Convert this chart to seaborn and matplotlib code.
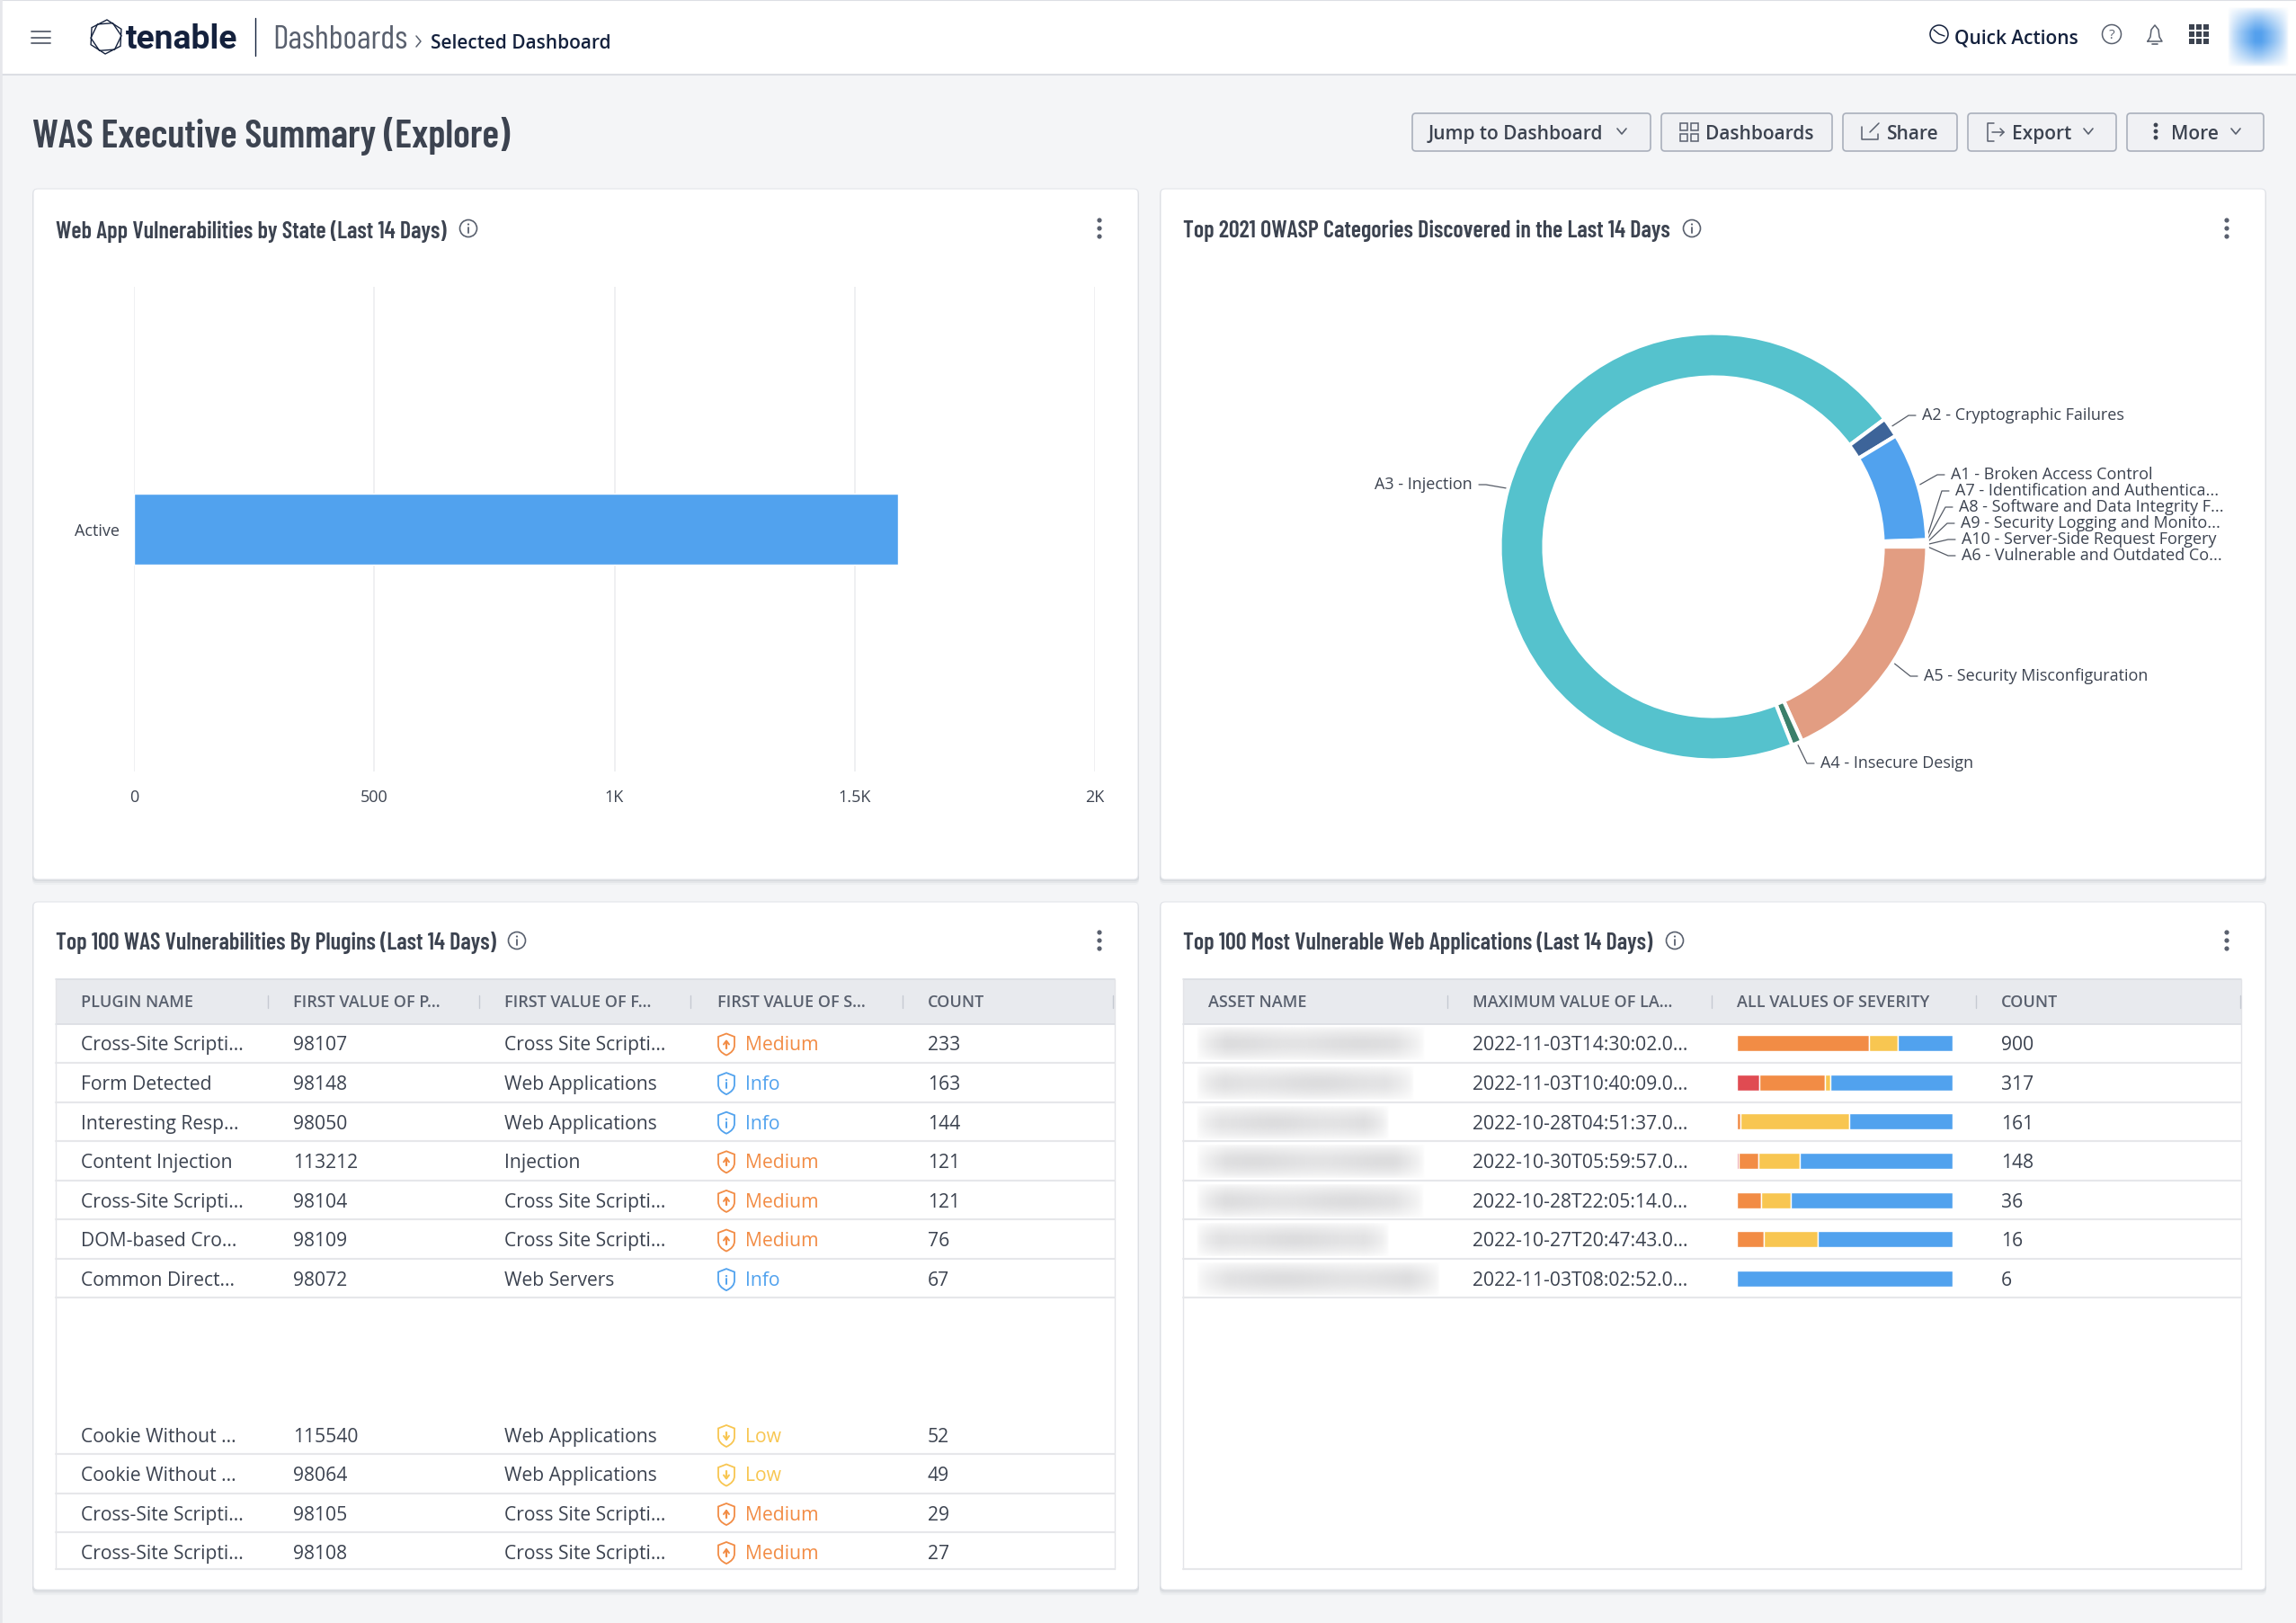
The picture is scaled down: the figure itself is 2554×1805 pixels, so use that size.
import numpy as np
import matplotlib
matplotlib.use("Agg")
import matplotlib.pyplot as plt
import seaborn as sns
from matplotlib import font_manager
from matplotlib.patches import Rectangle, FancyBboxPatch, Circle, RegularPolygon, PathPatch
from matplotlib.path import Path

# bar chart
state_names = ["Active"]
state_counts = [1590]
state_ticks = [0, 500, 1000, 1500, 2000]
state_tick_labels = ["0", "500", "1K", "1.5K", "2K"]

# donut, clockwise from 3 o'clock
owasp_names = ["A5 - Security Misconfiguration", "A4 - Insecure Design", "A3 - Injection",
               "A2 - Cryptographic Failures", "A1 - Broken Access Control",
               "A7 - Identification and Authentica...", "A8 - Software and Data Integrity F...",
               "A9 - Security Logging and Monito...", "A10 - Server-Side Request Forgery",
               "A6 - Vulnerable and Outdated Co..."]
owasp_counts = [182, 8, 708, 15, 82, 1, 1, 1, 1, 1]
owasp_colors = ["#e29d82", "#3b7f6a", "#55c2cd", "#3d6499", "#51a2ee",
                "#51a2ee", "#51a2ee", "#51a2ee", "#51a2ee", "#51a2ee"]

# plugin table
plugin_header = ["PLUGIN NAME", "FIRST VALUE OF P...", "FIRST VALUE OF F...", "FIRST VALUE OF S...", "COUNT"]
plugin_names = ["Cross-Site Scripti...", "Form Detected", "Interesting Resp...", "Content Injection",
                "Cross-Site Scripti...", "DOM-based Cro...", "Common Direct...",
                "Cookie Without ...", "Cookie Without ...", "Cross-Site Scripti...", "Cross-Site Scripti..."]
plugin_ids = ["98107", "98148", "98050", "113212", "98104", "98109", "98072", "115540", "98064", "98105", "98108"]
plugin_families = ["Cross Site Scripti...", "Web Applications", "Web Applications", "Injection",
                   "Cross Site Scripti...", "Cross Site Scripti...", "Web Servers",
                   "Web Applications", "Web Applications", "Cross Site Scripti...", "Cross Site Scripti..."]
plugin_severity = ["Medium", "Info", "Info", "Medium", "Medium", "Medium", "Info", "Low", "Low", "Medium", "Medium"]
plugin_counts = [233, 163, 144, 121, 121, 76, 67, 52, 49, 29, 27]

# web app table
app_header = ["ASSET NAME", "MAXIMUM VALUE OF LA...", "ALL VALUES OF SEVERITY", "COUNT"]
app_last_seen = ["2022-11-03T14:30:02.0...", "2022-11-03T10:40:09.0...", "2022-10-28T04:51:37.0...",
                 "2022-10-30T05:59:57.0...", "2022-10-28T22:05:14.0...", "2022-10-27T20:47:43.0...",
                 "2022-11-03T08:02:52.0..."]
app_counts = [900, 317, 161, 148, 36, 16, 6]
app_critical = [0, 33, 0, 1, 0, 0, 0]
app_high = [552, 97, 3, 14, 4, 2, 0]
app_low = [119, 8, 81, 28, 5, 4, 0]
app_info = [229, 179, 77, 105, 27, 10, 6]

W, H = 2554, 1806
NAVY = "#14213d"
INK = "#3c4350"
GREY = "#59606e"
SEV_COLORS = {"Medium": "#f28c45", "Info": "#51a2ee", "Low": "#f8c651"}

sns.set_theme(style="white")

# pick a condensed face for the headings if there is one
installed = {f.name for f in font_manager.fontManager.ttflist}
narrow = "Roboto"
for name in ["Barlow Condensed", "Roboto Condensed", "Open Sans Condensed", "Liberation Sans Narrow", "DejaVu Sans Condensed"]:
    if name in installed:
        narrow = name
        break
plt.rcParams["font.family"] = ["Open Sans", "DejaVu Sans"]

fig = plt.figure(figsize=(W / 100, H / 100), dpi=100, facecolor="#f4f5f7")
bg = fig.add_axes([0, 0, 1, 1], zorder=0)
bg.set_xlim(0, W)
bg.set_ylim(H, 0)
bg.axis("off")


def px_axes(x0, y0, x1, y1, z=2):
    # axes from a pixel box, y measured from the top
    ax = fig.add_axes([x0 / W, 1 - y1 / H, (x1 - x0) / W, (y1 - y0) / H], zorder=z)
    ax.patch.set_alpha(0)
    return ax


def label(x, y, s, size=15.2, color=INK, ha="left", **kw):
    # va=center sits a little high for these faces
    return bg.text(x, y + 2.5, s, fontsize=size, color=color, ha=ha, va="center", **kw)


def line(xs, ys, color=GREY, lw=1.2, **kw):
    bg.plot(xs, ys, color=color, lw=lw, solid_capstyle="round", **kw)


def card(x0, y0, x1, y1):
    for i, a in zip([6, 4, 2], [0.05, 0.08, 0.12]):
        bg.add_patch(FancyBboxPatch((x0 - 1, y0 + i - 2), x1 - x0 + 2, y1 - y0 + 2, boxstyle="round,pad=0,rounding_size=5",
                                    fc="#7c8494", ec="none", alpha=a))
    bg.add_patch(FancyBboxPatch((x0, y0), x1 - x0, y1 - y0, boxstyle="round,pad=0,rounding_size=5", fc="white", ec="#e3e5ea", lw=0.8))


def info_icon(x, y, color=GREY):
    bg.add_patch(Circle((x, y), 9.5, fc="none", ec=color, lw=1.2))
    line([x, x], [y - 1, y + 5], color=color, lw=1.3)
    bg.add_patch(Circle((x, y - 4.5), 1.1, fc=color, ec="none"))


def menu_dots(x, y, color=GREY, r=2.6, gap=9):
    for k in [-1, 0, 1]:
        bg.add_patch(Circle((x, y + k * gap), r, fc=color, ec="none"))


def chevron(x, y, color=GREY):
    line([x - 5, x, x + 5], [y - 3, y + 3, y - 3], color=color, lw=1.2)


def soft_patch(x0, y0, x1, y1, rgb, peak, edge_x=0.14, edge_y=0.34, power=1.0, ripple=0.0, phase=0.0):
    # blurred rectangle, used for the redacted names and the avatar
    ny, nx = 40, 120
    yy, xx = np.mgrid[0:1:ny * 1j, 0:1:nx * 1j]
    fade_x = np.clip(np.minimum(xx, 1 - xx) / edge_x, 0, 1)
    fade_y = np.clip(np.minimum(yy, 1 - yy) / edge_y, 0, 1)
    alpha = peak * (fade_x * fade_y) ** power * (1 + ripple * np.sin(xx * 11 + phase))
    img = np.zeros((ny, nx, 4))
    img[..., :3] = rgb
    img[..., 3] = np.clip(alpha, 0, 1)
    bg.imshow(img, extent=(x0, x1, y1, y0), aspect="auto", interpolation="bilinear", zorder=1)
    bg.set_xlim(0, W)
    bg.set_ylim(H, 0)


def shield(x, y, severity):
    c = SEV_COLORS[severity]
    verts = [(0, -12), (9, -8.5), (9, 1), (9, 8), (0, 12), (-9, 8), (-9, 1), (-9, -8.5), (0, -12)]
    codes = [Path.MOVETO, Path.LINETO, Path.LINETO, Path.CURVE3, Path.CURVE3, Path.CURVE3, Path.CURVE3, Path.LINETO, Path.CLOSEPOLY]
    bg.add_patch(PathPatch(Path([(x + a, y + b) for a, b in verts], codes), fc="none", ec=c, lw=1.3))
    if severity == "Medium":
        line([x, x], [y - 4, y + 4], color=c, lw=1.6)
        line([x - 3, x, x + 3], [y, y - 4, y], color=c, lw=1.4)
    elif severity == "Low":
        line([x, x], [y - 4, y + 4], color=c, lw=1.6)
        line([x - 3, x, x + 3], [y, y + 4, y], color=c, lw=1.4)
    else:
        line([x, x], [y - 1, y + 5], color=c, lw=1.4)
        bg.add_patch(Circle((x, y - 4), 1.1, fc=c, ec="none"))


# top bar
bg.add_patch(Rectangle((0, 0), W, 84, fc="white", ec="none"))
line([0, W], [1, 1], color="#dcdee4", lw=1.5)
line([0, W], [84, 84], color="#dcdee4", lw=1.5)
line([0, 0], [0, H], color="#e6e7eb", lw=4)
for yy in [36, 43, 49]:
    line([35, 56], [yy, yy], color=GREY, lw=1.3)
for rot, rad in [(0.05, 19), (0.45, 17)]:
    bg.add_patch(RegularPolygon((118, 42), 6, radius=rad, orientation=rot, fc="none", ec=NAVY, lw=1.0))
label(140, 42, "tenable", size=26.8, color=NAVY, fontweight="bold", family="Roboto")
line([284, 284], [21, 63], color=NAVY, lw=1)
label(303, 42.5, "Dashboards", size=27, color=GREY, family=narrow)
line([463, 468, 463], [41, 47, 53], color=GREY, lw=1.1)
label(479, 46, "Selected Dashboard", size=15, color=NAVY, fontweight="semibold")
bg.add_patch(Circle((2157, 39), 10, fc="none", ec=NAVY, lw=1.1))
line([2151, 2157, 2163], [34, 39, 41], color=NAVY, lw=1)
label(2174, 40.5, "Quick Actions", size=15, color=NAVY, fontweight="semibold")
bg.add_patch(Circle((2349, 39), 10.5, fc="none", ec=GREY, lw=1.1))
label(2349, 37, "?", size=11, color=GREY, ha="center")
line([2389, 2392, 2393, 2397, 2401, 2402, 2405, 2389], [47, 42, 34, 29, 34, 42, 47, 47], color=GREY, lw=1.1)
line([2394, 2400], [50, 50], color=GREY, lw=1.2)
for gx in [2435, 2443, 2451]:
    for gy in [28, 36, 44]:
        bg.add_patch(Rectangle((gx, gy), 6, 6, fc=INK, ec="none"))
soft_patch(2478, 8, 2546, 76, (0.33, 0.63, 0.93), 1.0, edge_x=0.45, edge_y=0.42, power=0.7)

# page title and buttons
label(36, 149, "WAS Executive Summary (Explore)", size=31.3, color=INK, fontweight="semibold", family=narrow)
buttons = [(1571, 1836, "Jump to Dashboard", 1589, 1804), (1848, 2038, "Dashboards", 1897, None),
           (2050, 2177, "Share", 2099, None), (2189, 2354, "Export", 2238, 2323), (2366, 2518, "More", 2415, 2487)]
for x0, x1, s, tx, chev in buttons:
    bg.add_patch(FancyBboxPatch((x0, 127), x1 - x0, 42, boxstyle="round,pad=0,rounding_size=4", fc="#f0f1f4", ec="#aab0bc", lw=1.2))
    label(tx, 147, s, size=15, color=INK, fontweight="semibold")
    if chev:
        chevron(chev, 147)
for sx, sy in [(1869, 138), (1881, 138), (1869, 150), (1881, 150)]:
    bg.add_patch(Rectangle((sx, sy), 8, 8, fc="none", ec=GREY, lw=1.1))
line([2071, 2071, 2089, 2089], [142, 156, 156, 150], lw=1.1)
line([2080, 2090], [148, 138], lw=1.1)
line([2218, 2211, 2211, 2218], [138, 138, 158, 158], lw=1.1)
line([2216, 2229], [148, 148], lw=1.1)
line([2225, 2229, 2225], [144, 148, 152], lw=1.1)
menu_dots(2398, 147, color=INK, r=2.4, gap=7)

# cards
card(37, 211, 1266, 979)
card(1291, 211, 2520, 979)
card(37, 1004, 1266, 1769)
card(1291, 1004, 2520, 1769)
card_titles = [(62, 254.5, "Web App Vulnerabilities by State (Last 14 Days)", 521, 1223, 255),
               (1316, 254.5, "Top 2021 OWASP Categories Discovered in the Last 14 Days", 1882, 2477, 255),
               (62, 1046.5, "Top 100 WAS Vulnerabilities By Plugins (Last 14 Days)", 575, 1223, 1047),
               (1316, 1046.5, "Top 100 Most Vulnerable Web Applications (Last 14 Days)", 1863, 2477, 1047)]
for tx, ty, s, ix, mx, my in card_titles:
    label(tx, ty, s, size=18.8, color=INK, fontweight="semibold", family=narrow)
    info_icon(ix, my)
    menu_dots(mx, my)

# bar chart panel
ax = px_axes(149, 320, 1218, 859)
sns.barplot(x=state_counts, y=state_names, orient="h", color="#51a2ee", saturation=1, width=0.145, ax=ax, zorder=3)
ax.set_xlim(state_ticks[0], state_ticks[-1])
ax.set_xticks(state_ticks)
ax.set_xticklabels(state_tick_labels, fontsize=13, color=INK)
ax.tick_params(axis="x", length=0, pad=14)
ax.tick_params(axis="y", length=0, pad=11.5, labelsize=13, labelcolor=INK)
ax.set_xlabel("")
ax.set_ylabel("")
ax.grid(axis="x", color="#ecedf0", lw=1.2)
ax.set_axisbelow(True)
sns.despine(ax=ax, left=True, bottom=True)

# donut panel
cx, cy, R = 1906, 609, 237.5
ax = px_axes(cx - R, cy - R, cx + R, cy + R)
wedges, _ = ax.pie(owasp_counts, colors=sns.color_palette(owasp_colors), startangle=0, counterclock=False, radius=1,
                   wedgeprops=dict(width=49 / R, edgecolor="white", linewidth=3))
ax.set_xlim(-1, 1)
ax.set_ylim(-1, 1)
for w in wedges:
    w.set_clip_on(False)
# label position of each slice, same order as owasp_names
label_spots = [(2140, 751), (2025, 848), (1638, 538), (2138, 461), (2170, 527),
               (2175, 545), (2179, 563), (2181, 581), (2182, 599), (2182, 617)]
for w, s, (lx, ly) in zip(wedges, owasp_names, label_spots):
    mid = np.deg2rad((w.theta1 + w.theta2) / 2)
    sx, sy = cx + (R - 1) * np.cos(mid), cy - (R - 1) * np.sin(mid)
    side = -1 if lx < cx - R else 1
    line([sx, lx - side * 15, lx - side * 7], [sy, ly + 2, ly + 2], color="#555b66", lw=0.9)
    label(lx, ly - 1, s, size=13, color=INK, ha="left" if side > 0 else "right")

# tables
row_y = [1160.5 + 43.6 * i for i in range(7)] + [1596, 1639.5, 1683, 1726]
row_sep = [1183, 1227, 1270, 1314, 1357, 1401, 1444, 1618, 1662, 1705, 1746]


def table_frame(x0, x1, header, text_x, sep_x, seps):
    bg.add_patch(Rectangle((x0, 1090), x1 - x0, 50, fc="#e8eaee", ec="none"))
    line([x0, x1], [1090, 1090], color="#dadde3", lw=1.2)
    line([x0, x1], [1140, 1140], color="#dadde3", lw=1.2)
    line([x0, x0], [1090, 1746], color="#e3e4e8", lw=1)
    line([x1, x1], [1090, 1746], color="#e3e4e8", lw=1)
    for s, tx in zip(header, text_x):
        label(tx, 1113, s, size=13, color=GREY, fontweight="semibold")
    for sx in sep_x:
        line([sx, sx], [1108, 1122], color="#c6cad2", lw=1)
    for yy in seps:
        line([x0, x1], [yy, yy], color="#e6e7ea", lw=1.5)


table_frame(62, 1240, plugin_header, [90, 326, 561, 798, 1032], [298, 533, 768, 1004, 1238], row_sep)
for i, yy in enumerate(row_y):
    label(90, yy, plugin_names[i])
    label(326, yy, plugin_ids[i])
    label(561, yy, plugin_families[i])
    shield(808, yy + 2, plugin_severity[i])
    label(829, yy, plugin_severity[i], color=SEV_COLORS[plugin_severity[i]])
    label(1032, yy, str(plugin_counts[i]))

table_frame(1316, 2493, app_header, [1344, 1638, 1932, 2226], [1610, 1904, 2198, 2492], row_sep[:7] + [1746])
blob_right = [1586, 1574, 1546, 1586, 1585, 1546, 1603]
for i in range(7):
    yy = row_y[i]
    soft_patch(1330, yy - 18, blob_right[i], yy + 21, (0.8, 0.8, 0.81), 0.6, edge_x=0.13, edge_y=0.42, power=0.55, ripple=0.1, phase=i * 1.7)
    label(1638, yy, app_last_seen[i])
    label(2226, yy, str(app_counts[i]))

# stacked severity bars, each row scaled to its own total
ax = px_axes(1932, 1139, 2172, 1444.9)
rows = np.arange(len(app_counts))
totals = np.array(app_counts, dtype=float)
left = np.zeros(len(rows))
for vals, col in zip([app_critical, app_high, app_low, app_info], ["#e04b52", "#f28c45", "#f8c651", "#51a2ee"]):
    share = np.array(vals) / totals
    ax.barh(rows, share, left=left, height=0.41, color=col)
    left += share
ax.set_xlim(0, 1)
ax.set_ylim(6.5, -0.5)
ax.axis("off")

fig.savefig("out.png", dpi=100)
